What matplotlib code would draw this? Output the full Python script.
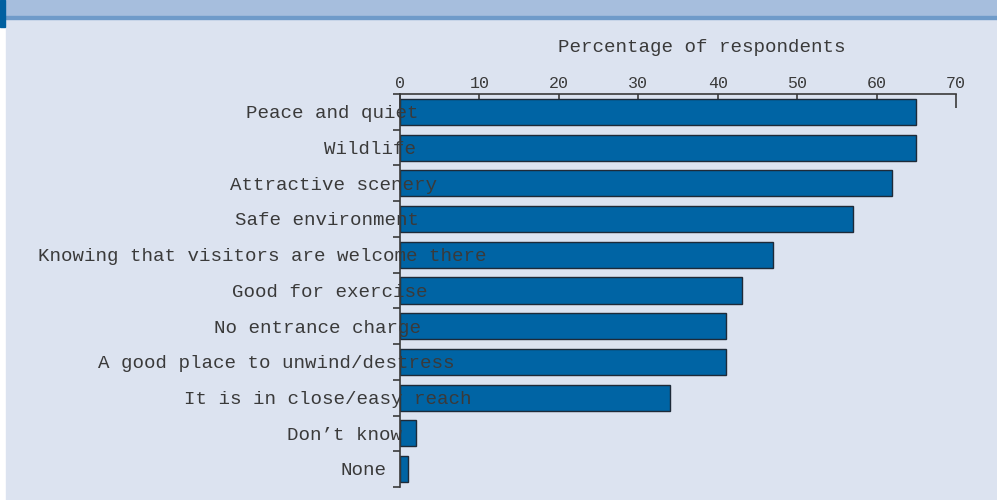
import matplotlib
matplotlib.use("Agg")
import matplotlib.pyplot as plt
import matplotlib.transforms as mtransforms
from matplotlib.patches import Rectangle

categories = [
    "Peace and quiet",
    "Wildlife",
    "Attractive scenery",
    "Safe environment",
    "Knowing that visitors are welcome there",
    "Good for exercise",
    "No entrance charge",
    "A good place to unwind/destress",
    "It is in close/easy reach",
    "Don\u2019t know",
    "None",
]
values = [65, 65, 62, 57, 47, 43, 41, 41, 34, 2, 1]
xticks = [0, 10, 20, 30, 40, 50, 60, 70]
xlabel = "Percentage of respondents"

# left edge of each category label, in pixels from the figure's left edge
label_left_px = [246, 324, 230, 235, 38, 232, 214, 98, 184, 287, 340]

W, H = 997, 500
BG = "#dce3f0"
BAND = "#a6bedd"
STRIPE = "#6f9bc9"
BAR = "#0064a4"
TXT = "#3a3a3a"
FONT = "Liberation Mono"

fig = plt.figure(figsize=(W / 100, H / 100), dpi=100)
fig.patch.set_facecolor("white")

# background panels
fig.add_artist(Rectangle((6 / W, 0), 1, 1 - 20 / H, transform=fig.transFigure,
                         color=BG, zorder=0))
fig.add_artist(Rectangle((0, 1 - 16 / H), 1, 16 / H, transform=fig.transFigure,
                         color=BAND, zorder=0))
fig.add_artist(Rectangle((0, 1 - 19 / H), 1, 3 / H, transform=fig.transFigure,
                         color=STRIPE, zorder=0))
fig.add_artist(Rectangle((0, 1 - 27 / H), 5 / W, 27 / H, transform=fig.transFigure,
                         color="#0060a0", zorder=1))

ax = fig.add_axes([400 / W, 1 - 487 / H, (956 - 400) / W, (487 - 94) / H])
ax.set_facecolor("none")

y = list(range(len(categories)))
ax.barh(y, values, height=0.73, color=BAR, edgecolor="#1e2a38", linewidth=1.0, zorder=2)

ax.set_xlim(0, 70)
ax.set_ylim(len(categories) - 0.5, -0.5)

for s in ["right", "bottom"]:
    ax.spines[s].set_visible(False)
for s in ["top", "left"]:
    ax.spines[s].set_color("#3a3a3a")
    ax.spines[s].set_linewidth(1.2)

ax.xaxis.tick_top()
ax.set_xticks(xticks)
ax.set_xticklabels([str(t) for t in xticks], fontfamily=FONT, fontsize=12, color=TXT)
ax.tick_params(axis="x", direction="in", length=10, width=1.2, color="#3a3a3a", pad=2)

ax.set_yticks([i - 0.5 for i in range(len(categories) + 1)])
ax.set_yticklabels([])
ax.tick_params(axis="y", direction="out", length=5, width=1.2, color="#3a3a3a")

trans = mtransforms.blended_transform_factory(fig.transFigure, ax.transData)
for i, (name, px) in enumerate(zip(categories, label_left_px)):
    ax.text(px / W, i + 0.05, name, transform=trans, ha="left", va="center",
            fontfamily=FONT, fontsize=13.8, color=TXT, zorder=3, clip_on=False)

fig.text(702 / W, 1 - 48 / H, xlabel, ha="center", va="center",
         fontfamily=FONT, fontsize=13.8, color=TXT)

fig.savefig("out.png", dpi=100, facecolor=fig.get_facecolor())
